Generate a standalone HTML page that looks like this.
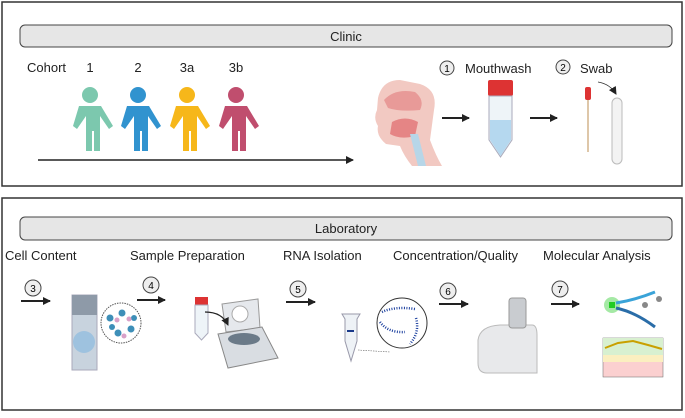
<!DOCTYPE html>
<html><head><meta charset="utf-8"><style>
body{margin:0;width:685px;height:413px;background:#fff;overflow:hidden;font-family:"Liberation Sans",sans-serif}
</style></head><body>
<svg width="685" height="413" viewBox="0 0 685 413" xmlns="http://www.w3.org/2000/svg" font-family="Liberation Sans, sans-serif">
<defs>
<marker id="ah" markerWidth="8" markerHeight="8" refX="7" refY="4" orient="auto" markerUnits="userSpaceOnUse"><path d="M0,0 L8,4 L0,8z" fill="#222"/></marker>
<g id="person"><circle cx="0" cy="-23" r="8"/><path d="M-11,-12 h22 l12,20 -4,3 -9,-13 v35 h-6 v-20 h-2 v20 h-6 v-35 l-9,13 -4,-3z"/></g>
</defs>
<rect x="2" y="2" width="680" height="184" fill="none" stroke="#333" stroke-width="1.5"/>
<rect x="20" y="25" width="652" height="22" rx="5" fill="#e6e6e6" stroke="#444"/>
<text x="346" y="41" font-size="13" text-anchor="middle" fill="#222">Clinic</text>
<g font-size="13" fill="#222">
<text x="27" y="72">Cohort</text><text x="90" y="72" text-anchor="middle">1</text><text x="138" y="72" text-anchor="middle">2</text><text x="187" y="72" text-anchor="middle">3a</text><text x="236" y="72" text-anchor="middle">3b</text>
</g>
<use href="#person" x="90" y="118" fill="#7cc8ae"/>
<use href="#person" x="138" y="118" fill="#3193cf"/>
<use href="#person" x="187" y="118" fill="#f6b71a"/>
<use href="#person" x="236" y="118" fill="#c04e6e"/>
<line x1="38" y1="160" x2="353" y2="160" stroke="#222" stroke-width="1.5" marker-end="url(#ah)"/>
<!-- head -->
<path d="M378,98 Q382,80 400,80 L420,84 Q438,90 434,110 L430,140 Q436,156 442,166 L412,166 Q404,156 400,146 L386,144 Q376,136 378,126 Q373,118 377,110z" fill="#f2c9c2"/>
<path d="M384,100 Q395,88 415,92 Q425,100 420,110 Q400,112 388,108z" fill="#e89a98"/>
<path d="M392,122 Q405,115 418,122 L415,136 Q400,140 390,134z" fill="#e58585"/>
<path d="M410,134 L418,166 L426,166 L418,134z" fill="#b7d6e8"/>
<line x1="442" y1="118" x2="469" y2="118" stroke="#222" stroke-width="2" marker-end="url(#ah)"/>
<line x1="530" y1="118" x2="557" y2="118" stroke="#222" stroke-width="2" marker-end="url(#ah)"/>
<!-- tube -->
<rect x="488" y="80" width="25" height="16" rx="2" fill="#d33"/>
<path d="M489,96 h23 v44 l-11.5,17 l-11.5,-17z" fill="#eef4f8" stroke="#aab"/>
<path d="M490,120 h21 v20 l-10.5,16 l-10.5,-16z" fill="#b5d8ef"/>
<circle cx="447" cy="68" r="7" fill="#eee" stroke="#444"/><text x="447" y="72" font-size="10" text-anchor="middle">1</text>
<text x="465" y="73" font-size="13" fill="#222">Mouthwash</text>
<circle cx="563" cy="67" r="7" fill="#eee" stroke="#444"/><text x="563" y="71" font-size="10" text-anchor="middle">2</text>
<text x="580" y="73" font-size="13" fill="#222">Swab</text>
<rect x="585" y="87" width="6" height="13" rx="2" fill="#d33"/><line x1="588" y1="100" x2="588" y2="152" stroke="#d2b48c" stroke-width="1.5"/>
<rect x="612" y="98" width="10" height="66" rx="5" fill="#f3f3f3" stroke="#bbb"/>
<path d="M598,82 Q610,84 616,94" fill="none" stroke="#333" stroke-width="0.8" marker-end="url(#ah)"/>

<rect x="2" y="198" width="680" height="212" fill="none" stroke="#333" stroke-width="1.5"/>
<rect x="20" y="217" width="652" height="23" rx="5" fill="#e6e6e6" stroke="#444"/>
<text x="346" y="233" font-size="13" text-anchor="middle" fill="#222">Laboratory</text>
<g font-size="13" fill="#222">
<text x="5" y="260">Cell Content</text><text x="130" y="260">Sample Preparation</text><text x="283" y="260">RNA Isolation</text><text x="393" y="260">Concentration/Quality</text><text x="543" y="260">Molecular Analysis</text>
</g>
<g font-size="10" text-anchor="middle">
<circle cx="33" cy="288" r="8" fill="#eee" stroke="#444"/><text x="33" y="292">3</text>
<circle cx="151" cy="285" r="8" fill="#eee" stroke="#444"/><text x="151" y="289">4</text>
<circle cx="298" cy="289" r="8" fill="#eee" stroke="#444"/><text x="298" y="293">5</text>
<circle cx="448" cy="291" r="8" fill="#eee" stroke="#444"/><text x="448" y="295">6</text>
<circle cx="560" cy="289" r="8" fill="#eee" stroke="#444"/><text x="560" y="293">7</text>
</g>
<g stroke="#222" stroke-width="2" marker-end="url(#ah)">
<line x1="21" y1="301" x2="50" y2="301"/><line x1="137" y1="300" x2="165" y2="300"/><line x1="286" y1="302" x2="315" y2="302"/><line x1="439" y1="304" x2="468" y2="304"/><line x1="551" y1="304" x2="579" y2="304"/>
</g>
<!-- slide -->
<rect x="72" y="295" width="25" height="75" fill="#c8d3de" stroke="#aab"/><rect x="72" y="295" width="25" height="20" fill="#8e9aa8"/>
<circle cx="84" cy="342" r="11" fill="#9ec2df"/>
<circle cx="121" cy="323" r="20" fill="#fff" stroke="#555" stroke-dasharray="1.5,1"/>
<g fill="#3e8fb8"><circle cx="110" cy="318" r="3.5"/><circle cx="122" cy="313" r="3.5"/><circle cx="118" cy="333" r="3.5"/><circle cx="131" cy="329" r="3.5"/><circle cx="112" cy="327" r="3"/><circle cx="134" cy="318" r="3"/></g>
<g fill="#d9a0c8"><circle cx="117" cy="320" r="2.5"/><circle cx="129" cy="319" r="2.5"/><circle cx="124" cy="336" r="2.5"/></g>
<!-- centrifuge -->
<rect x="195" y="297" width="13" height="8" fill="#d33"/><path d="M195,305 h13 v28 l-6.5,7 l-6.5,-7z" fill="#eef4f8" stroke="#aab"/>
<path d="M222,304 L258,299 L260,328 L226,332z" fill="#e5e8ec" stroke="#999"/>
<circle cx="240" cy="314" r="8" fill="#fff" stroke="#aaa"/>
<path d="M218,334 L262,327 L278,358 L228,368z" fill="#d9dde2" stroke="#888"/>
<ellipse cx="244" cy="339" rx="16" ry="6" fill="#6b7a88"/>
<path d="M205,312 Q222,312 228,325" fill="none" stroke="#222" stroke-width="1.2" marker-end="url(#ah)"/>
<!-- eppendorf -->
<path d="M342,314 h18 l-3,5 v22 l-6,20 l-6,-20 v-22z" fill="#eef2f6" stroke="#99a"/>
<line x1="347" y1="331" x2="354" y2="331" stroke="#1a3a8a" stroke-width="2"/>
<circle cx="402" cy="323" r="25" fill="#fff" stroke="#333"/>
<g stroke="#1b3f9e" stroke-width="2.5" fill="none" stroke-dasharray="1,1.5"><path d="M382,312 Q395,306 415,309"/><path d="M380,322 Q388,333 405,332"/><path d="M416,318 Q420,332 410,344"/></g>
<line x1="358" y1="350" x2="390" y2="352" stroke="#666" stroke-width="0.6" stroke-dasharray="1.5,1"/>
<!-- instrument -->
<path d="M478,340 Q480,326 500,325 h32 q5,0 5,10 v38 h-50 q-9,0 -9,-10z" fill="#e8e9eb" stroke="#bbb"/>
<rect x="509" y="298" width="17" height="30" rx="3" fill="#c9ccd0" stroke="#999"/>
<!-- molecular -->
<circle cx="612" cy="305" r="8" fill="#7fe07f" opacity="0.7"/><rect x="609" y="302" width="6" height="6" fill="#2c2"/>
<path d="M616,303 Q635,300 655,292" stroke="#3aa3d8" stroke-width="3" fill="none"/>
<path d="M616,308 Q635,312 655,327" stroke="#2a6da8" stroke-width="3" fill="none"/>
<circle cx="645" cy="305" r="3" fill="#888"/><circle cx="659" cy="299" r="3" fill="#888"/>
<rect x="603" y="338" width="60" height="39" fill="#fbd0d0" stroke="#666" stroke-width="0.5"/>
<rect x="603" y="338" width="60" height="17" fill="#d8f0d0"/><rect x="603" y="355" width="60" height="7" fill="#fbefc0"/>
<path d="M605,348 L618,343 L633,341 L648,345 L662,349" stroke="#c9a000" stroke-width="2" fill="none"/>
</svg>
</body></html>
